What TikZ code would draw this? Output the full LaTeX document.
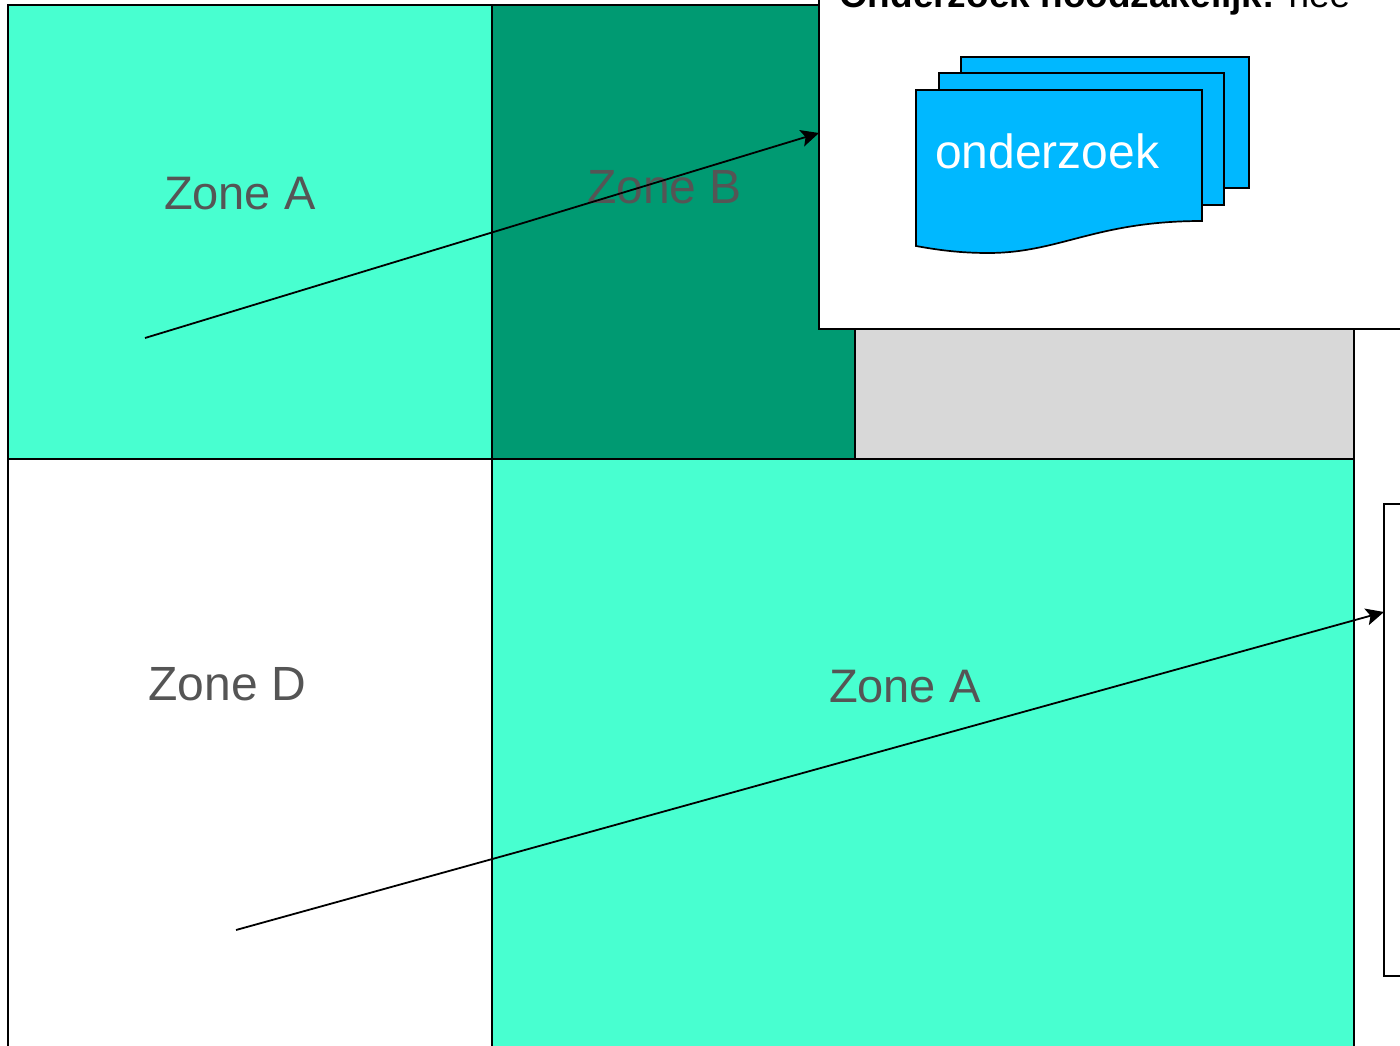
\documentclass[tikz,border=0pt]{standalone}
\usepackage{fontspec}
\setmainfont{Liberation Sans}
\usetikzlibrary{arrows.meta}
\definecolor{aqua}{HTML}{48FFD0}
\definecolor{zoneb}{HTML}{009A72}
\definecolor{greyfill}{HTML}{D8D8D8}
\definecolor{docblue}{HTML}{00B8FF}
\definecolor{labelgrey}{HTML}{555555}
\tikzset{
  zone/.style={draw=black,line width=1.5pt},
  zonelabel/.style={anchor=base west,inner sep=0pt,outer sep=0pt,text=labelgrey,font=\fontsize{47}{47}\selectfont},
  zonelabelwide/.style={zonelabel,font=\fontsize{48}{48}\selectfont},
  docsheet/.style={draw=black,fill=docblue,line width=1.7pt,line join=miter},
  flow/.style={draw=black,line width=1.8pt,-{Stealth[length=18pt,width=17pt,inset=4pt]}}
}
\begin{document}
\begin{tikzpicture}[x=1pt,y=-1pt]
\useasboundingbox (0,0) rectangle (1400,1046);
\clip (0,0) rectangle (1400,1046);
\fill[white] (0,0) rectangle (1400,1046);
% zones
\draw[zone,fill=greyfill] (855,5) rectangle (1354,459);
\draw[zone,fill=aqua] (8,5) rectangle (492,459);
\draw[zone,fill=zoneb] (492,5) rectangle (855,459);
\draw[zone,fill=white] (8,459) rectangle (492,1060);
\draw[zone,fill=aqua] (492,459) rectangle (1354,1060);
% labels
\node[zonelabel] (za1) at (164,209) {Zone A};
\node[zonelabelwide] (zb) at (587,203) {Zone B};
\node[zonelabelwide] (zd) at (148.5,700) {Zone D};
\node[zonelabel] (za2) at (829,702) {Zone A};
% white panels
\draw[zone,fill=white] (819,-20) rectangle (1420,329);
\draw[zone,fill=white] (1384,504) rectangle (1420,976);
\coordinate (panelIn) at (819,133);
\coordinate (panelOut) at (1384,612);
\coordinate (start1) at (145,338);
\coordinate (start2) at (236,930);
\node[anchor=base west,inner sep=0pt,outer sep=0pt,font=\fontsize{37}{37}\selectfont] (title) at (839,8) {\textbf{Onderzoek noodzakelijk:} nee};
% document stack
\draw[docsheet] (961,57) rectangle (1249,188);
\draw[docsheet] (939,73) rectangle (1224,205);
\draw[docsheet] (916,90) -- (1202,90) -- (1202,221)
  .. controls (1095,221) and (1060,253) .. (988,253)
  .. controls (960,253) and (938,250) .. (916,246) -- cycle;
\node[anchor=base west,inner sep=0pt,outer sep=0pt,text=white,font=\fontsize{48}{48}\selectfont] (doc) at (935,168) {onderzoek};
% connectors
\draw[flow] (start1) -- (panelIn);
\draw[flow] (start2) -- (panelOut);
\end{tikzpicture}
\end{document}
